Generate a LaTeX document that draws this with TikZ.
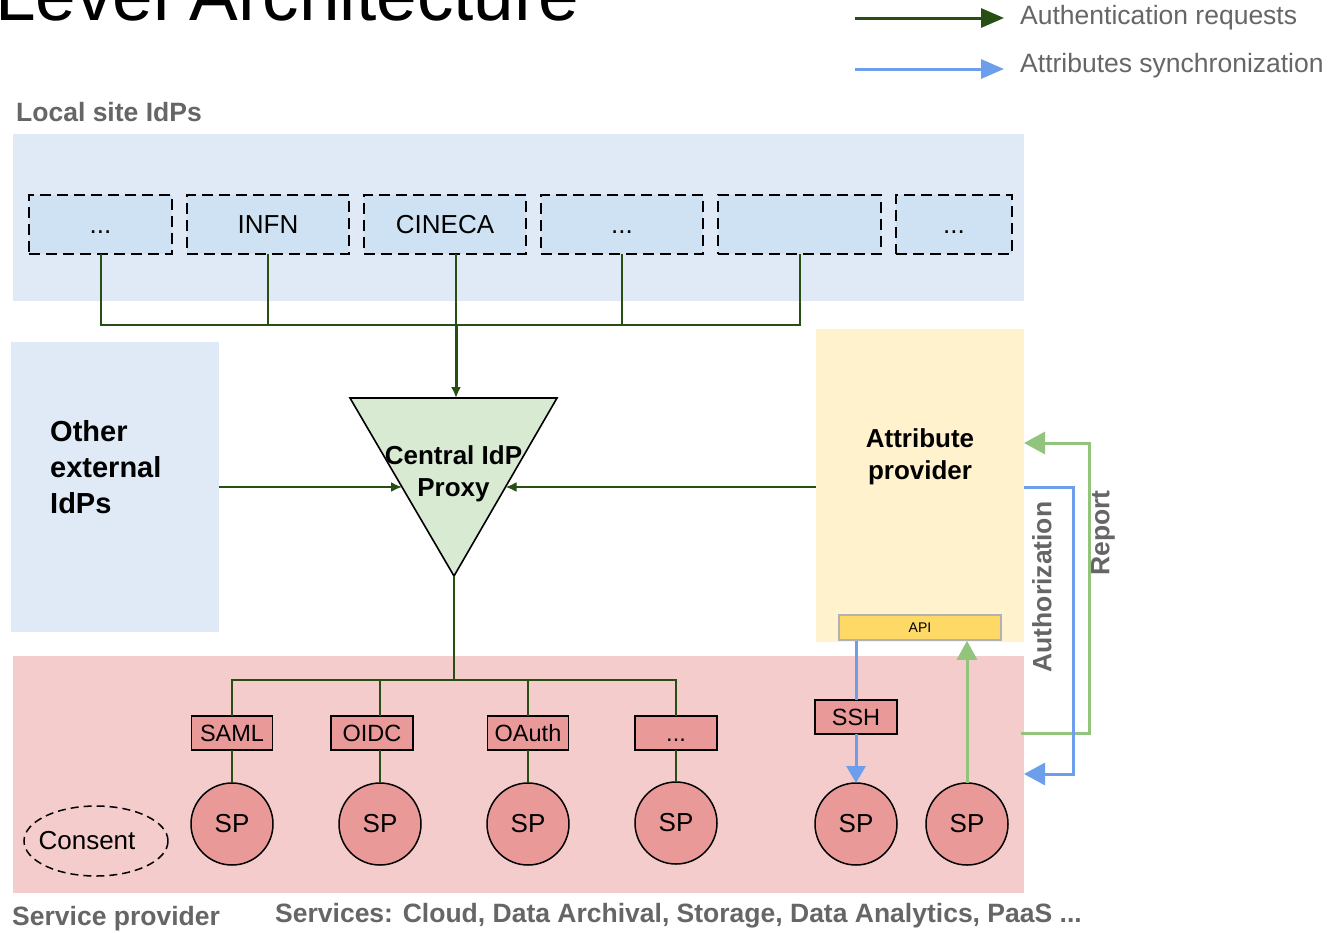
\documentclass[tikz,border=0pt]{standalone}
\usepackage{fontspec}
\setmainfont{Liberation Sans}
\usetikzlibrary{arrows.meta,calc,shapes.geometric}
\definecolor{authgreen}{HTML}{274E13}
\definecolor{syncblue}{HTML}{6D9EEB}
\definecolor{repgreen}{HTML}{93C47D}
\definecolor{txtgray}{HTML}{666666}
\definecolor{bgblue}{HTML}{E0EAF6}
\definecolor{boxblue}{HTML}{CFE2F3}
\definecolor{bgpink}{HTML}{F4CCCC}
\definecolor{boxpink}{HTML}{EA9999}
\definecolor{bgyellow}{HTML}{FFF2CC}
\definecolor{apiyellow}{HTML}{FFD966}
\definecolor{trigreen}{HTML}{D9EAD3}
\tikzset{
  region/.style={inner sep=0pt, outer sep=0pt, draw=none},
  idpbox/.style={draw=black, fill=boxblue, line width=1.6pt, dash pattern=on 11pt off 6pt,
     minimum height=59pt, inner sep=0pt, outer sep=0pt, text height=18.6pt, text depth=0pt,
     font=\fontsize{26}{30}\selectfont},
  protobox/.style={draw=black, fill=boxpink, line width=1.5pt, minimum height=34pt, minimum width=82pt,
     inner sep=0pt, outer sep=0pt, text height=16.8pt, text depth=0pt, font=\fontsize{23.5}{28}\selectfont},
  spnode/.style={circle, draw=black, fill=boxpink, line width=1.5pt, minimum size=82pt, inner sep=0pt,
     outer sep=0pt, font=\fontsize{26}{30}\selectfont},
  authline/.style={draw=authgreen, line width=2pt},
  authtip/.style={-{Latex[length=11pt,width=10pt]}},
  syncline/.style={draw=syncblue, line width=3pt},
  repline/.style={draw=repgreen, line width=3pt},
  bigtip/.style={-{Triangle[length=21pt,width=22pt]}},
  grayhead/.style={text=txtgray, font=\bfseries\fontsize{26.5}{30}\selectfont, inner sep=0pt},
  legendtxt/.style={text=txtgray, font=\fontsize{26.5}{30}\selectfont, inner sep=0pt, anchor=west},
  bold/.style={font=\bfseries\fontsize{26}{32}\selectfont, inner sep=0pt}
}
\begin{document}
\begin{tikzpicture}[x=1pt,y=-1pt]
\useasboundingbox (0,0) rectangle (1337,932);
\fill[white] (0,0) rectangle (1337,932);

% title
\node[anchor=base west, inner sep=0pt, font=\fontsize{73}{80}\selectfont] (title) at (-5,20) {Level Architecture};

% legend
\coordinate (la1) at (855,18);
\coordinate (la2) at (1004,18);
\coordinate (lb1) at (855,69);
\coordinate (lb2) at (1004,69);
\draw[authline, line width=3pt, -{Triangle[length=23pt,width=19pt]}] (la1) -- (la2);
\draw[syncline, -{Triangle[length=23pt,width=19pt]}] (lb1) -- (lb2);
\node[legendtxt] (lega) at (1020,18) {Authentication requests};
\node[legendtxt] (legb) at (1020,66) {Attributes synchronization};

% regions
\node[region, fill=bgblue, minimum width=1011pt, minimum height=167pt, anchor=north west] (local) at (13,134) {};
\node[region, fill=bgblue, minimum width=208pt, minimum height=290pt, anchor=north west] (other) at (11,342) {};
\node[region, fill=bgyellow, minimum width=208pt, minimum height=313pt, anchor=north west] (attr) at (816,329) {};
\node[region, fill=bgpink, minimum width=1011pt, minimum height=237pt, anchor=north west] (spbg) at (13,656) {};

\node[grayhead, anchor=west] (localtxt) at (16,112) {Local site IdPs};

% local IdPs
\node[idpbox, minimum width=143pt] (i1) at (100.5,224.5) {...};
\node[idpbox, minimum width=162pt] (i2) at (268,224.5) {INFN};
\node[idpbox, minimum width=162pt] (i3) at (445,224.5) {CINECA};
\node[idpbox, minimum width=162pt] (i4) at (622,224.5) {...};
\node[idpbox, minimum width=163pt] (i5) at (799.5,224.5) {};
\node[idpbox, minimum width=116pt] (i6) at (954,224.5) {...};

% central proxy triangle
\coordinate (tA) at (350,398);
\coordinate (tB) at (557,398);
\coordinate (tC) at (454,576);
\filldraw[fill=trigreen, draw=black, line width=1.6pt, line join=miter] (tA) -- (tB) -- (tC) -- cycle;
\node[bold, align=center] (proxy) at (453.5,474) {Central IdP\\Proxy};
\coordinate (pL) at ($(tA)!0.5!(tC)$);
\coordinate (pR) at ($(tB)!0.5!(tC)$);

% bus from local IdPs
\coordinate (bus) at (456,325);
\coordinate (i3j) at (456,254);
\draw[authline] (i1.south) |- (bus) -| (i5.south);
\draw[authline] (i2.south) -- (i2.south |- bus);
\draw[authline] (i4.south) -- (i4.south |- bus);
\draw[authline] (i3j) -- (bus);
\draw[authline, line width=3pt, authtip] (bus) -- (bus |- tA);

% other external IdPs
\node[font=\bfseries\fontsize{29}{36}\selectfont, align=left, anchor=west, inner sep=0pt] (othertxt) at (50,467) {Other\\external\\IdPs};
\draw[authline, authtip] (other.east |- pL) -- (pL);

% attribute provider
\node[bold, align=center] (attrtxt) at (920,457) {Attribute\\provider};
\draw[authline, authtip] (attr.west |- pR) -- (pR);
\node[draw=black!30, fill=apiyellow, line width=1.5pt, minimum width=162pt, minimum height=25pt, inner sep=0pt,
      font=\fontsize{14}{16}\selectfont] (api) at (920,627.5) {API};

% service providers
\node[protobox, minimum width=81pt] (p1) at (232,733) {SAML};
\node[protobox] (p2) at (372,733) {OIDC};
\node[protobox, minimum width=81pt] (p3) at (528,733) {OAuth};
\node[protobox] (p4) at (676,733) {...};
\node[protobox] (ssh) at (856,717) {SSH};

\node[spnode] (sp1) at (232,824) {SP};
\node[spnode] (sp2) at (380,824) {SP};
\node[spnode] (sp3) at (528,824) {SP};
\node[spnode] (sp4) at (676,823) {SP};
\node[spnode] (sp5) at (856,824) {SP};
\node[spnode] (sp6) at (967,824) {SP};

\coordinate (bus2) at (454,680);
\draw[authline] (tC) -- (bus2);
\draw[authline] (p1.north) |- (bus2) -| (p4.north);
\draw[authline] (sp2.north |- bus2) -- (sp2.north |- p2.north);
\draw[authline] (sp3.north |- bus2) -- (sp3.north |- p3.north);
\draw[authline] (p1.south) -- (sp1.north);
\draw[authline] (sp2.north |- p2.south) -- (sp2.north);
\draw[authline] (sp3.north |- p3.south) -- (sp3.north);
\draw[authline] (sp4.north |- p4.south) -- (sp4.north);

\draw[syncline] (ssh.north |- api.south) -- (ssh.north);
\draw[syncline, -{Triangle[length=17pt,width=19pt]}] (ssh.south) -- (sp5.north);
\draw[repline, -{Triangle[length=19pt,width=20pt]}] (sp6.north) -- (sp6.north |- api.south);

% report and authorization loops
\coordinate (rs) at (1021,733);
\coordinate (rc1) at (1089,733);
\coordinate (rc2) at (1089,443);
\draw[repline, bigtip] (rs) -- (rc1) -- (rc2) -- (attr.east |- rc2);
\coordinate (ac1) at (1073,487);
\coordinate (ac2) at (1073,774);
\draw[syncline, bigtip] (attr.east |- ac1) -- (ac1) -- (ac2) -- (spbg.east |- ac2);
\node[grayhead, rotate=90] (authlbl) at (1042,587) {Authorization};
\node[grayhead, rotate=90] (replbl) at (1103,533) {Report};

% consent
\node[ellipse, draw=black, line width=1.5pt, dash pattern=on 8pt off 5pt, minimum width=144pt, minimum height=70pt] (consentshape) at (96,841) {};
\node[font=\fontsize{26}{30}\selectfont, inner sep=0pt] (consent) at (87,841) {Consent};

% bottom labels
\node[grayhead, anchor=west] (sptxt) at (12,919) {Service provider};
\node[grayhead, anchor=west] (services) at (275,916) {Services: Cloud, Data Archival, Storage, Data Analytics, PaaS ...};
\end{tikzpicture}
\end{document}
